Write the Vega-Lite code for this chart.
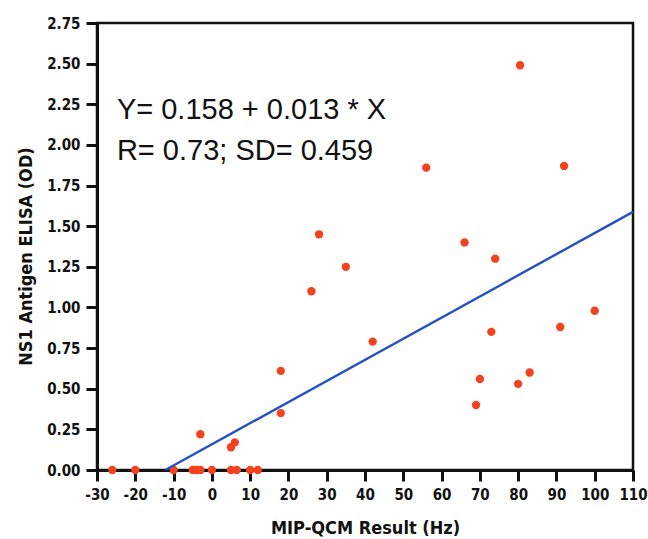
{
  "$schema": "https://vega.github.io/schema/vega-lite/v6.json",
  "width": 536,
  "height": 447,
  "autosize": {"type": "none"},
  "padding": {"left": 97, "top": 23, "right": 15, "bottom": 69},
  "background": "#ffffff",
  "config": {
    "view": {"stroke": "#111111", "strokeWidth": 2.5}
  },
  "datasets": {
    "pts": [
      {"x": 80.5, "y": 2.49}, {"x": 56, "y": 1.86}, {"x": 92, "y": 1.87}, {"x": 28, "y": 1.45},
      {"x": 35, "y": 1.25}, {"x": 26, "y": 1.10}, {"x": 66, "y": 1.40}, {"x": 74, "y": 1.30},
      {"x": 42, "y": 0.79}, {"x": 73, "y": 0.85}, {"x": 91, "y": 0.88}, {"x": 100, "y": 0.98},
      {"x": 70, "y": 0.56}, {"x": 69, "y": 0.40}, {"x": 80, "y": 0.53}, {"x": 83, "y": 0.60},
      {"x": 18, "y": 0.61}, {"x": 18, "y": 0.35}, {"x": -3, "y": 0.22}, {"x": 5, "y": 0.14},
      {"x": 6, "y": 0.17},
      {"x": -26, "y": 0}, {"x": -20, "y": 0}, {"x": -10, "y": 0}, {"x": -5, "y": 0}, {"x": -4, "y": 0},
      {"x": -3, "y": 0}, {"x": 0, "y": 0}, {"x": 5, "y": 0}, {"x": 6.5, "y": 0}, {"x": 10, "y": 0},
      {"x": 12, "y": 0}
    ],
    "fit": [{"x": -12.15, "y": 0}, {"x": 110, "y": 1.588}],
    "notes": [
      {"x": -24.8, "y": 2.215, "t": "Y= 0.158 + 0.013 * X"},
      {"x": -24.8, "y": 1.96, "t": "R= 0.73; SD= 0.459"}
    ]
  },
  "encoding": {
    "x": {"field": "x", "type": "quantitative", "title": "MIP-QCM Result (Hz)",
          "scale": {"domain": [-30, 110], "nice": false, "zero": false},
          "axis": {"values": [-30,-20,-10,0,10,20,30,40,50,60,70,80,90,100,110], "tickCount": 15, "labelExpr": "'' + datum.value",
                   "labelOverlap": false, "labelFlush": false, "labelPadding": 6, "titlePadding": 17, "grid": false,
                   "domainColor": "#111111", "domainWidth": 3, "tickColor": "#111111", "tickWidth": 3, "tickSize": 11,
                   "labelFont": "DejaVu Sans Condensed, DejaVu Sans", "labelFontWeight": "bold", "labelFontSize": 15, "labelColor": "#111111",
                   "titleFont": "DejaVu Sans Condensed, DejaVu Sans", "titleFontWeight": "bold", "titleFontSize": 18, "titleColor": "#111111"}},
    "y": {"field": "y", "type": "quantitative", "title": "NS1 Antigen ELISA (OD)",
          "scale": {"domain": [0, 2.75], "nice": false},
          "axis": {"values": [0,0.25,0.5,0.75,1,1.25,1.5,1.75,2,2.25,2.5,2.75], "format": ".2f",
                   "labelOverlap": false, "labelFlush": false, "labelPadding": 6, "titlePadding": 11, "titleY": 233, "grid": false,
                   "domainColor": "#111111", "domainWidth": 3, "tickColor": "#111111", "tickWidth": 3, "tickSize": 11,
                   "labelFont": "DejaVu Sans Condensed, DejaVu Sans", "labelFontWeight": "bold", "labelFontSize": 15, "labelColor": "#111111",
                   "titleFont": "DejaVu Sans Condensed, DejaVu Sans", "titleFontWeight": "bold", "titleFontSize": 18, "titleColor": "#111111"}}
  },
  "layer": [
    {
      "data": {"name": "pts"},
      "mark": {"type": "point", "filled": true, "size": 70, "color": "#f2421f", "opacity": 1}
    },
    {
      "data": {"name": "fit"},
      "mark": {"type": "line", "color": "#2451c4", "strokeWidth": 2.4}
    },
    {
      "data": {"name": "notes"},
      "mark": {"type": "text", "align": "left", "baseline": "middle", "font": "Liberation Sans", "fontSize": 29, "color": "#111111"},
      "encoding": {
        "text": {"field": "t"}
      }
    }
  ]
}
